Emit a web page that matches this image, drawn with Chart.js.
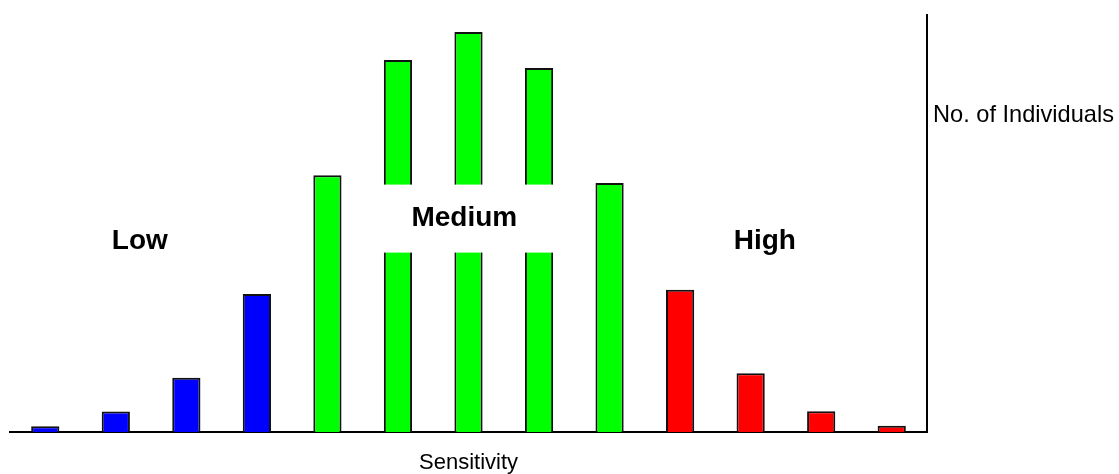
<!DOCTYPE html>
<html>
<head>
<meta charset="utf-8">
<script src="https://cdn.jsdelivr.net/npm/chart.js@4/dist/chart.umd.min.js"></script>
<style>
  html, body { margin: 0; padding: 0; background: #ffffff; }
  #wrap { width: 1119px; height: 474px; position: relative; }
</style>
</head>
<body>
<div id="wrap"><canvas id="sensChart"></canvas></div>
<script>
// Sensitivity classes (no tick labels are shown in the picture)
const categories = ['1', '2', '3', '4', '5', '6', '7', '8', '9', '10', '11', '12', '13'];
const individuals = [1.4, 4.9, 13.0, 33.1, 61.6, 89.2, 95.9, 87.3, 59.7, 34.1, 14.1, 5.0, 1.5];
const barColors = [
    '#0000ff', '#0000ff', '#0000ff', '#0000ff',
    '#00ff00', '#00ff00', '#00ff00', '#00ff00', '#00ff00',
    '#ff0000', '#ff0000', '#ff0000', '#ff0000'
];

// Group labels, placed on the category / value scales
const groupLabels = [
    { text: 'Low', at: 1.34, value: 44.0, box: false },
    { text: 'Medium', at: 5.94, value: 49.5, box: true },
    { text: 'High', at: 10.2, value: 44.0, box: false }
];

const sideTitle = 'No. of Individuals';
const bottomTitle = 'Sensitivity';

// draws the group labels and the horizontal y-axis caption
const labelPlugin = {
    id: 'groupLabels',
    afterDatasetsDraw(chart) {
        const ctx = chart.ctx;
        const x = chart.scales.x;
        const y = chart.scales.y;
        ctx.save();
        ctx.font = 'bold 28px "Liberation Sans", Arial, sans-serif';
        ctx.textAlign = 'center';
        ctx.textBaseline = 'alphabetic';
        groupLabels.forEach(g => {
            const px = x.getPixelForValue(g.at);
            const py = y.getPixelForValue(g.value);
            if (g.box) {
                // white band behind "Medium", cutting through the middle bars
                ctx.fillStyle = '#ffffff';
                ctx.fillRect(px - 96, py - 41, 196, 68);
            }
            ctx.fillStyle = '#000000';
            ctx.fillText(g.text, px, py);
        });

        ctx.font = '23.6px "Liberation Sans", Arial, sans-serif';
        ctx.textAlign = 'left';
        ctx.fillStyle = '#000000';
        ctx.fillText(sideTitle, chart.chartArea.right + 6, y.getPixelForValue(74.4));
        ctx.restore();
    }
};

const ctx = document.getElementById('sensChart').getContext('2d');
const chart = new Chart(ctx, {
    type: 'bar',
    data: {
        labels: categories,
        datasets: [{
            data: individuals,
            backgroundColor: barColors,
            borderColor: '#111111',
            borderWidth: 2,
            barPercentage: 0.4,
            categoryPercentage: 1.0
        }]
    },
    options: {
        responsive: true,
        maintainAspectRatio: false,
        animation: false,
        layout: {
            padding: { left: 10, right: 184, top: 15, bottom: 0 }
        },
        plugins: {
            legend: { display: false },
            tooltip: { enabled: false }
        },
        scales: {
            x: {
                grid: { display: false },
                ticks: { display: false },
                border: { display: true, color: '#000000', width: 2 },
                title: {
                    display: true,
                    text: bottomTitle,
                    color: '#000000',
                    font: { family: '"Liberation Sans", Arial, sans-serif', size: 22, lineHeight: 1.0 },
                    padding: { top: 12, bottom: 0 }
                }
            },
            y: {
                position: 'right',
                min: 0,
                max: 100,
                grid: { display: false },
                ticks: { display: false },
                border: { display: true, color: '#000000', width: 2 }
            }
        }
    },
    plugins: [labelPlugin]
});
</script>
</body>
</html>
